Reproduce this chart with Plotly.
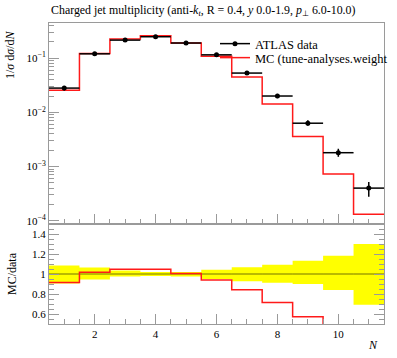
import plotly.graph_objects as go
import numpy as np

# ---- data ----
bin_edges = [0.5, 1.5, 2.5, 3.5, 4.5, 5.5, 6.5, 7.5, 8.5, 9.5, 10.5, 11.5]
n_centers = [1, 2, 3, 4, 5, 6, 7, 8, 9, 10, 11]
data_vals = [0.028, 0.12, 0.215, 0.248, 0.19, 0.115, 0.053, 0.020, 0.0063, 0.0018, 0.0004]
data_rel_up = [0.085, 0.065, 0.035, 0.02, 0.02, 0.043, 0.067, 0.093, 0.133, 0.183, 0.30]
data_rel_dn = [0.095, 0.055, 0.025, 0.02, 0.025, 0.05, 0.073, 0.087, 0.10, 0.16, 0.307]
mc_vals = [0.0256, 0.122, 0.225, 0.26, 0.191, 0.108, 0.0447, 0.0143, 0.0036, 0.00073, 0.000132]

x_ticks = [2, 4, 6, 8, 10]
x_ticklabels = ["2", "4", "6", "8", "10"]
log_ticks = [1e-4, 1e-3, 1e-2, 1e-1]
log_ticklabels = ["10<sup>−4</sup>", "10<sup>−3</sup>", "10<sup>−2</sup>", "10<sup>−1</sup>"]
ratio_ticks = [0.6, 0.8, 1.0, 1.2, 1.4]
ratio_ticklabels = ["0.6", "0.8", "1", "1.2", "1.4"]

FONT = "Liberation Serif"
AXC = "#9a9a9a"
RED = "#ff1a1a"

data_arr = np.array(data_vals)
mc_arr = np.array(mc_vals)
ratio_mc = mc_arr / data_arr
band_up = 1 + np.array(data_rel_up)
band_dn = 1 - np.array(data_rel_dn)

def step(v):
    v = list(v)
    return v + [v[-1]]

fig = go.Figure()

# ---- ratio panel ----
fig.add_trace(go.Scatter(x=bin_edges, y=step(band_dn), mode="lines", line=dict(width=0, shape="hv"),
                         xaxis="x2", yaxis="y2", showlegend=False, hoverinfo="skip"))
fig.add_trace(go.Scatter(x=bin_edges, y=step(band_up), mode="lines", line=dict(width=0, shape="hv"),
                         fill="tonexty", fillcolor="#ffff00",
                         xaxis="x2", yaxis="y2", showlegend=False, hoverinfo="skip"))
fig.add_trace(go.Scatter(x=bin_edges, y=step(np.ones(len(data_vals))), mode="lines",
                         line=dict(width=1, color="rgba(0,0,0,0.55)", shape="hv"),
                         xaxis="x2", yaxis="y2", showlegend=False, hoverinfo="skip"))
fig.add_trace(go.Scatter(x=bin_edges, y=step(ratio_mc), mode="lines",
                         line=dict(width=1.5, color=RED, shape="hv"),
                         xaxis="x2", yaxis="y2", showlegend=False, hoverinfo="skip"))

# ---- main panel ----
fig.add_trace(go.Scatter(x=bin_edges, y=step(mc_vals), mode="lines",
                         line=dict(width=1.5, color=RED, shape="hv"),
                         xaxis="x", yaxis="y", showlegend=False))
fig.add_trace(go.Scatter(x=n_centers, y=data_vals, mode="markers",
                         marker=dict(color="black", size=5),
                         error_x=dict(type="constant", value=0.5, width=0, thickness=1.5, color="black"),
                         error_y=dict(type="data", array=list(data_arr * np.array(data_rel_up)),
                                      arrayminus=list(data_arr * np.array(data_rel_dn)),
                                      width=0, thickness=1.5, color="black"),
                         xaxis="x", yaxis="y", showlegend=False))
# legend entries
fig.add_trace(go.Scatter(x=[None], y=[None], mode="lines+markers", name="ATLAS data",
                         line=dict(color="black", width=1.5), marker=dict(color="black", size=5),
                         xaxis="x", yaxis="y", legend="legend"))
fig.add_trace(go.Scatter(x=[None], y=[None], mode="lines", name="MC (tune-analyses.weight",
                         line=dict(color=RED, width=1.5), xaxis="x", yaxis="y", legend="legend2"))

split = 100 / 301
tickfont = dict(family=FONT, size=11, color="black")
xr = [0.5, 11.5]

common_x = dict(range=xr, showgrid=False, zeroline=False, showline=True, linecolor=AXC, linewidth=1,
                ticks="inside", tickcolor=AXC, ticklen=10, tickwidth=1,
                tickmode="array", tickvals=x_ticks,
                minor=dict(ticks="inside", ticklen=5, tickcolor=AXC, dtick=0.5, tick0=0.5, showgrid=False))

minor_log = [m * 10.0 ** e for e in range(-5, 0) for m in range(2, 10)]
legfont = dict(family=FONT, size=12.5, color="black")

fig.update_layout(
    width=397, height=358,
    margin=dict(l=49, r=13, t=23, b=34, autoexpand=False),
    paper_bgcolor="white", plot_bgcolor="white",
    font=dict(family=FONT, size=11, color="black"),
    xaxis=dict(common_x, domain=[0, 1], anchor="y", showticklabels=False, mirror=True),
    xaxis3=dict(common_x, domain=[0, 1], anchor="y", overlaying="x", side="top", showticklabels=False,
                ticklen=5, minor=dict(ticks="inside", ticklen=2.5, tickcolor=AXC, dtick=0.5, tick0=0.5)),
    xaxis2=dict(common_x, domain=[0, 1], anchor="y2", showticklabels=True, ticktext=x_ticklabels,
                tickfont=tickfont, mirror=True),
    xaxis4=dict(common_x, domain=[0, 1], anchor="y2", overlaying="x2", side="top", showticklabels=False),
    yaxis=dict(type="log", range=[-4.06, -0.352], domain=[split, 1], anchor="x",
               showgrid=False, zeroline=False, showline=True, linecolor=AXC, mirror=True,
               ticks="inside", tickcolor=AXC, ticklen=10, tickmode="array",
               tickvals=log_ticks, ticktext=log_ticklabels, tickfont=tickfont,
               minor=dict(ticks="inside", ticklen=5, tickcolor=AXC, showgrid=False, tickvals=minor_log)),
    yaxis3=dict(type="log", range=[-4.06, -0.352], domain=[split, 1], anchor="x", overlaying="y", side="right",
                showgrid=False, zeroline=False, showline=False,
                ticks="inside", tickcolor=AXC, ticklen=7, tickmode="array",
                tickvals=log_ticks, showticklabels=False,
                minor=dict(ticks="inside", ticklen=4, tickcolor=AXC, showgrid=False, tickvals=minor_log)),
    yaxis2=dict(range=[0.5, 1.5], domain=[0, split], anchor="x2",
                showgrid=False, zeroline=False, showline=True, linecolor=AXC, mirror="allticks",
                ticks="inside", tickcolor=AXC, ticklen=10, tickmode="array",
                tickvals=ratio_ticks, ticktext=ratio_ticklabels, tickfont=tickfont,
                minor=dict(ticks="inside", ticklen=5, tickcolor=AXC, dtick=0.05, tick0=0.5, showgrid=False)),
    legend=dict(x=(215 - 49) / 335, y=1 - (44 - 23) / 301, xanchor="left", yanchor="middle",
                bgcolor="rgba(0,0,0,0)", font=legfont, itemwidth=30),
    legend2=dict(x=(215 - 49) / 335, y=1 - (58 - 23) / 301, xanchor="left", yanchor="middle",
                 bgcolor="rgba(0,0,0,0)", font=legfont, itemwidth=30),
    showlegend=True,
)

annotations = [
    dict(text="Charged jet multiplicity (anti-<i>k<sub>t</sub></i>, R = 0.4, <i>y</i> 0.0-1.9, <i>p</i><sub>⊥</sub> 6.0-10.0)",
         xref="paper", yref="paper", x=0, y=1 + 12 / 301, xanchor="left", yanchor="middle",
         showarrow=False, font=dict(family=FONT, size=11.9, color="black")),
    dict(text="1/<i>σ</i> d<i>σ</i>/d<i>N</i>", textangle=-90,
         xref="paper", yref="paper", x=-39 / 335, y=1 - 32 / 301, xanchor="center", yanchor="middle",
         showarrow=False, font=dict(family=FONT, size=12, color="black")),
    dict(text="MC/data", textangle=-90,
         xref="paper", yref="paper", x=-37 / 335, y=split / 2, xanchor="center", yanchor="middle",
         showarrow=False, font=dict(family=FONT, size=12, color="black")),
    dict(text="<i>N</i>", xref="paper", yref="paper", x=1 - 4 / 335, y=-21 / 301, xanchor="right", yanchor="middle",
         showarrow=False, font=dict(family=FONT, size=12, color="black")),
]
fig.update_layout(annotations=annotations)

# remove the browser's default 8px body margin so the figure sits at the page origin
fig.write_html("out.html", config={"displayModeBar": False},
               post_script="document.body.style.margin='0';")
